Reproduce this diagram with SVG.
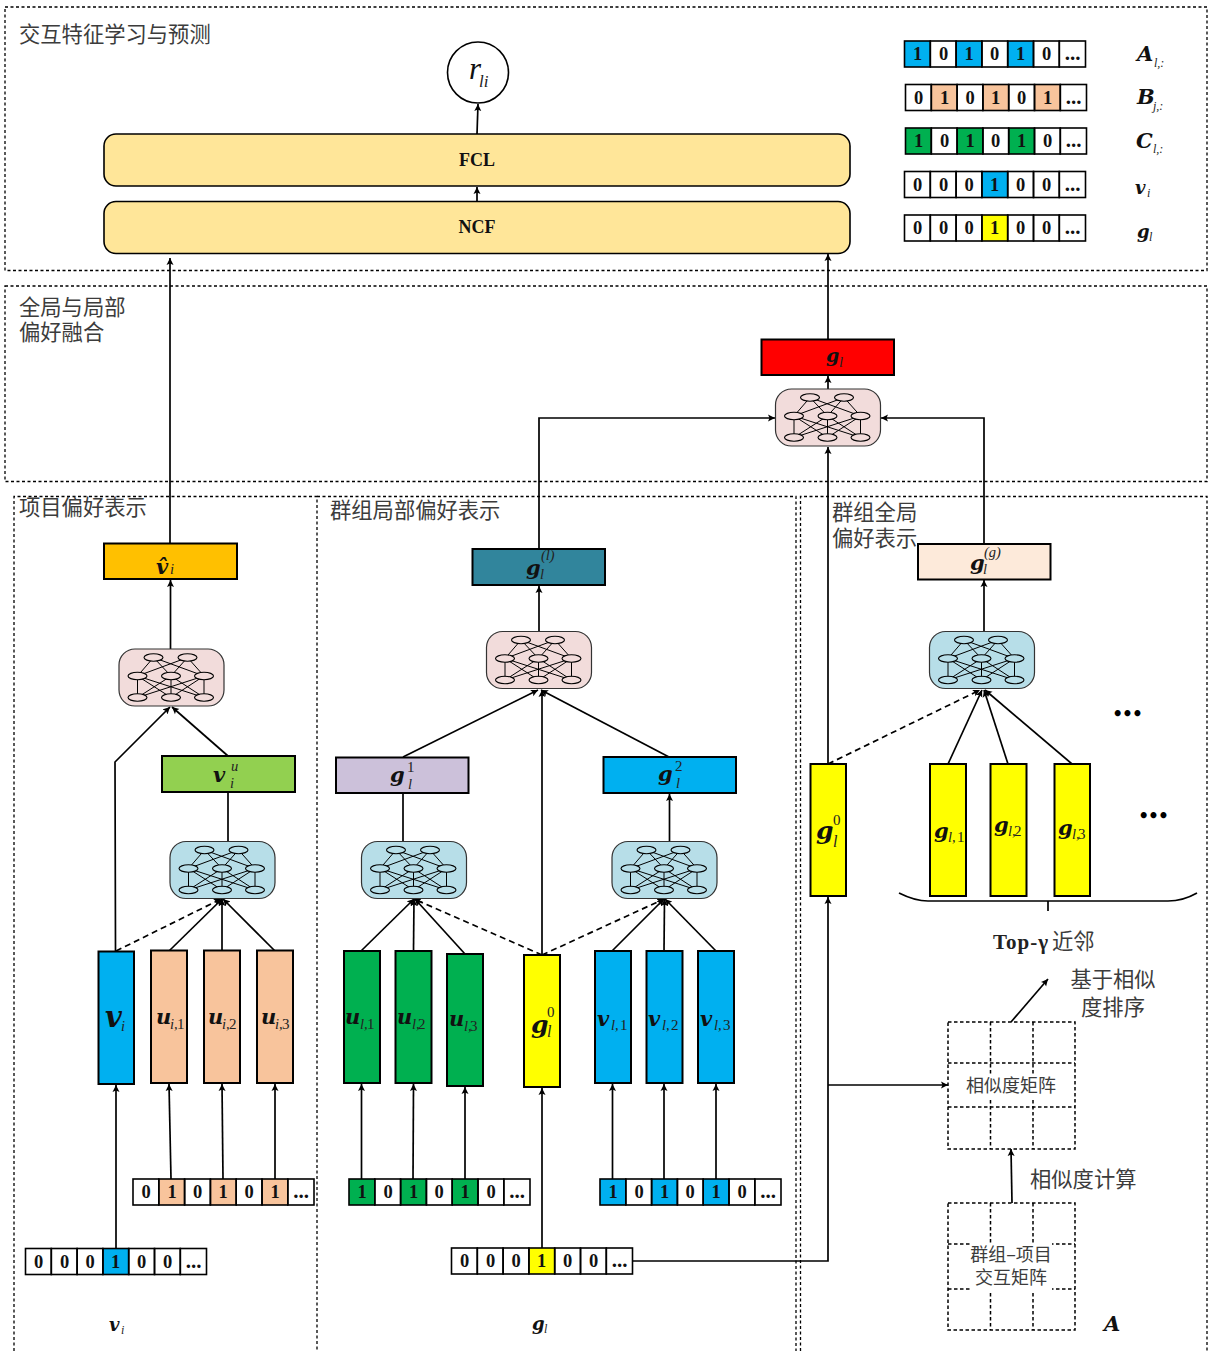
<svg xmlns="http://www.w3.org/2000/svg" width="1208" height="1351" viewBox="0 0 1208 1351">
<style>
.bg{fill:#fff}
.panel{fill:none;stroke:#000;stroke-width:1.3;stroke-dasharray:3 2.5}
.grid{fill:none;stroke:#000;stroke-width:1.5;stroke-dasharray:3.5 2.5}
.box{stroke:#000;stroke-width:2}
.yb{fill:#FFE699;stroke:#000;stroke-width:1.6}
.c{font-family:"Noto Sans CJK SC","Noto Sans",sans-serif;font-size:21.3px;fill:#3c3c3c}
.c18{font-size:18px}
.mid{text-anchor:middle}
.n{font-family:"Liberation Serif",serif;font-weight:bold;font-size:18.5px;text-anchor:middle;fill:#111}
.e{font-family:"Liberation Serif",serif;font-weight:bold;font-size:21px;text-anchor:middle;fill:#111}
.t{font-family:"Liberation Serif",serif;font-weight:bold;font-size:18px;text-anchor:middle;fill:#111}
.m{font-family:"DejaVu Serif",serif;font-weight:bold;font-style:italic;font-size:21px;fill:#111}
.s{font-family:"Liberation Serif",serif;font-style:italic;font-size:14.5px;fill:#222}
.r{font-family:"Liberation Serif",serif;font-size:15px;fill:#222}
.k{fill:none;stroke:#000;stroke-width:1.7}
.a{marker-end:url(#ah)}
.d{stroke-dasharray:6 4}
.nl{fill:none;stroke:#000;stroke-width:1}
.ne{stroke:#000;stroke-width:1.1}
.pink{fill:#F2DCDB;stroke:#333;stroke-width:1.2}
.blue{fill:#B7DEE8;stroke:#333;stroke-width:1.2}
.cell{fill:none;stroke:#000;stroke-width:1.6}
</style>
<defs>
<marker id="ah" markerUnits="userSpaceOnUse" markerWidth="9" markerHeight="8" refX="7" refY="4" orient="auto"><path d="M0,0.5 L7,4 L0,7.5 L1.5,4 Z" fill="#000"/></marker>
<g id="net">
<path class="nl" d="M34.5,8.5L18.5,27M34.5,8.5L52,27M34.5,8.5L85,27M68.5,8.5L18.5,27M68.5,8.5L52,27M68.5,8.5L85,27M18.5,27V48.5M18.5,27L52,48.5M18.5,27L85,48.5M52,27L18.5,48.5M52,27V48.5M52,27L85,48.5M85,27L18.5,48.5M85,27L52,48.5M85,27V48.5"/>
<g class="ne">
<ellipse cx="34.5" cy="8.5" rx="9.5" ry="3.7"/><ellipse cx="68.5" cy="8.5" rx="9.5" ry="3.7"/>
<ellipse cx="18.5" cy="27" rx="9.5" ry="3.7"/><ellipse cx="52" cy="27" rx="9.5" ry="3.7"/><ellipse cx="85" cy="27" rx="9.5" ry="3.7"/>
<ellipse cx="18.5" cy="48.5" rx="9.5" ry="3.7"/><ellipse cx="52" cy="48.5" rx="9.5" ry="3.7"/><ellipse cx="85" cy="48.5" rx="9.5" ry="3.7"/>
</g>
</g>
<g id="cells" class="cell">
<rect x="0" y="0" width="25.8" height="26"/><rect x="25.8" y="0" width="25.8" height="26"/><rect x="51.6" y="0" width="25.8" height="26"/><rect x="77.4" y="0" width="25.8" height="26"/><rect x="103.2" y="0" width="25.8" height="26"/><rect x="129" y="0" width="25.8" height="26"/><rect x="154.8" y="0" width="26.2" height="26"/>
</g>
</defs>
<rect class="bg" width="1208" height="1351"/>

<g id="panels">
<rect class="panel" x="5" y="7" width="1202" height="263.5"/>
<rect class="panel" x="5" y="286" width="1202" height="195.5"/>
<path class="panel" d="M14,1351V496.500H317V1351"/>
<path class="panel" d="M317,496.500H796V1351"/>
<path class="panel" d="M800.500,1351V496.500H1207V1351"/>
<text class="c" x="19" y="41.500">交互特征学习与预测</text>
<text class="c" x="19" y="315">全局与局部</text>
<text class="c" x="19" y="340">偏好融合</text>
<text class="c" x="19" y="514.500">项目偏好表示</text>
<text class="c" x="330" y="517.500">群组局部偏好表示</text>
<text class="c" x="832" y="520">群组全局</text>
<text class="c" x="832" y="545.500">偏好表示</text>
</g>

<g id="connectors">
<path class="k a" d="M170,543V258"/>
<path class="k a" d="M828,339V254"/>
<path class="k a" d="M828,389V376"/>
<path class="k a" d="M477,134L478,104"/>
<path class="k a" d="M477,201V187"/>
<path class="k a" d="M170.500,649V580"/>
<path class="k a" d="M115.500,951L115,762L170,707"/>
<path class="k a" d="M228,756L172,707"/>
<path class="k" d="M228,841V792"/>
<path class="k a d" d="M116,951L221,899"/>
<path class="k a" d="M169,951L222,899"/>
<path class="k a" d="M222,951V899"/>
<path class="k a" d="M275,951L223,899"/>
<path class="k a" d="M116,1248V1085"/>
<path class="k a" d="M171,1179L169,1084"/>
<path class="k a" d="M223,1179L222,1084"/>
<path class="k a" d="M275,1179V1084"/>
<path class="k a" d="M403,757L538,690"/>
<path class="k a" d="M669,757L541,690"/>
<path class="k a" d="M542,955V690"/>
<path class="k a" d="M539,631V586"/>
<path class="k a" d="M539,549V418H775"/>
<path class="k" d="M403,841V793"/>
<path class="k a" d="M669.500,841V794"/>
<path class="k a" d="M361,951L414,899"/>
<path class="k a" d="M413.500,951L414,899"/>
<path class="k a" d="M465,954L415,899"/>
<path class="k a d" d="M542,955L414,899"/>
<path class="k a d" d="M542,955L664,899"/>
<path class="k a" d="M612,951L664,899"/>
<path class="k a" d="M664,951L664.500,899"/>
<path class="k a" d="M716,951L665,899"/>
<path class="k a" d="M361.500,1179V1084"/>
<path class="k a" d="M413,1179L413.500,1084"/>
<path class="k a" d="M465,1179V1087"/>
<path class="k a" d="M612.500,1179V1084"/>
<path class="k a" d="M664,1179V1084"/>
<path class="k a" d="M716,1179V1084"/>
<path class="k a" d="M542,1248V1088"/>
<path class="k a" d="M633,1261H828V897"/>
<path class="k a" d="M828,1085H948"/>
<path class="k a" d="M828,764V447"/>
<path class="k a d" d="M828,764L980,690"/>
<path class="k a" d="M948,764L982,690"/>
<path class="k a" d="M1008,764L984,690"/>
<path class="k a" d="M1072,764L985,690"/>
<path class="k a" d="M984,631V580"/>
<path class="k a" d="M984,544V418H881"/>
<path class="k a" d="M1012,1203L1011,1149"/>
<path class="k a" d="M1011,1022L1048,979"/>
<path class="k" d="M899,893Q915,901 928,901H1168Q1183,901 1197,893"/>
<path class="k" d="M1048,901V911"/>
</g>

<g id="output-r"><circle cx="478" cy="72.500" r="30.500" fill="#fff" stroke="#000" stroke-width="1.6"/>
<text x="469" y="79" font-family="Liberation Serif" font-style="italic" font-size="31" fill="#111">r</text><text class="s" x="479" y="87" style="font-size:17px">li</text></g>
<g id="fcl"><rect class="yb" x="104" y="134" width="746" height="52" rx="12"/><text class="t" x="477" y="165.500">FCL</text></g>
<g id="ncf"><rect class="yb" x="104" y="201.500" width="746" height="52" rx="12"/><text class="t" x="477" y="233">NCF</text></g>

<g id="net-fusion"><rect class="pink" x="775.500" y="389" width="105" height="57" rx="16"/><use href="#net" x="775.500" y="389" fill="#F2DCDB"/></g>
<g id="net-item-top"><rect class="pink" x="119" y="649" width="105" height="57" rx="16"/><use href="#net" x="119" y="649" fill="#F2DCDB"/></g>
<g id="net-item"><rect class="blue" x="170" y="841.500" width="105" height="57" rx="16"/><use href="#net" x="170" y="841.500" fill="#B7DEE8"/></g>
<g id="net-local-top"><rect class="pink" x="486.500" y="631.500" width="105" height="57" rx="16"/><use href="#net" x="486.500" y="631.500" fill="#F2DCDB"/></g>
<g id="net-local-1"><rect class="blue" x="361.500" y="841.500" width="105" height="57" rx="16"/><use href="#net" x="361.500" y="841.500" fill="#B7DEE8"/></g>
<g id="net-local-2"><rect class="blue" x="612" y="841.500" width="105" height="57" rx="16"/><use href="#net" x="612" y="841.500" fill="#B7DEE8"/></g>
<g id="net-global"><rect class="blue" x="929.500" y="631.500" width="105" height="57" rx="16"/><use href="#net" x="929.500" y="631.500" fill="#B7DEE8"/></g>

<g id="g-l"><rect class="box" x="761.500" y="339.500" width="132.500" height="35.500" fill="#FF0000"/><text class="m" x="826" y="362" style="font-size:19px">g</text><text class="s" x="839" y="367">l</text></g>
<g id="v-hat"><rect class="box" x="104" y="543.500" width="133" height="35.500" fill="#FFC000"/><text class="m" x="156" y="574">v&#770;</text><text class="s" x="170" y="574">i</text></g>
<g id="g-local"><rect class="box" x="472.500" y="549" width="132.500" height="36" fill="#31859C"/><text class="m" x="526" y="575">g</text><text class="s" x="541" y="560">(l)</text><text class="s" x="540" y="579">l</text></g>
<g id="g-global"><rect class="box" x="918" y="544" width="132.500" height="35.500" fill="#FDEADA"/><text class="m" x="970" y="570">g</text><text class="s" x="984" y="557">(g)</text><text class="s" x="983" y="574">l</text></g>
<g id="v-u"><rect class="box" x="162" y="756" width="133" height="36" fill="#92D050"/><text class="m" x="213" y="782">v</text><text class="s" x="231" y="771">u</text><text class="s" x="230" y="788">i</text></g>
<g id="g-1"><rect class="box" x="336" y="757.500" width="132.500" height="35.500" fill="#CCC1DA"/><text class="m" x="390" y="782">g</text><text class="r" x="407" y="772">1</text><text class="s" x="408" y="789">l</text></g>
<g id="g-2"><rect class="box" x="603.500" y="757" width="132.500" height="36" fill="#00B0F0"/><text class="m" x="658" y="781">g</text><text class="r" x="675" y="771">2</text><text class="s" x="676" y="788">l</text></g>

<g id="bar-v"><rect class="box" x="98.500" y="951.500" width="35.500" height="132.500" fill="#00B0F0"/><text class="m" x="105" y="1027" style="font-size:29px">v</text><text class="s" x="121" y="1031">i</text></g>
<g id="bar-u1"><rect class="box" x="151" y="950.500" width="36" height="132.500" fill="#F8C49C"/><text class="m" x="156" y="1024">u</text><text class="s" x="170" y="1029">i,</text><text class="r" x="177" y="1029">1</text></g>
<g id="bar-u2"><rect class="box" x="204" y="950.500" width="36" height="132.500" fill="#F8C49C"/><text class="m" x="208" y="1024">u</text><text class="s" x="222" y="1029">i,</text><text class="r" x="229" y="1029">2</text></g>
<g id="bar-u3"><rect class="box" x="257" y="950.500" width="36" height="132.500" fill="#F8C49C"/><text class="m" x="261" y="1024">u</text><text class="s" x="275" y="1029">i,</text><text class="r" x="282" y="1029">3</text></g>
<g id="bar-g1"><rect class="box" x="344" y="951" width="36" height="132" fill="#00B050"/><text class="m" x="345" y="1024">u</text><text class="s" x="360" y="1029">l,</text><text class="r" x="367" y="1029">1</text></g>
<g id="bar-g2"><rect class="box" x="395.500" y="951" width="36" height="132" fill="#00B050"/><text class="m" x="397" y="1024">u</text><text class="s" x="412" y="1029">l,</text><text class="r" x="418" y="1029">2</text></g>
<g id="bar-g3"><rect class="box" x="447" y="954" width="36" height="132" fill="#00B050"/><text class="m" x="449" y="1026">u</text><text class="s" x="464" y="1031">l,</text><text class="r" x="470" y="1031">3</text></g>
<g id="bar-g0"><rect class="box" x="524" y="955" width="36" height="132" fill="#FFFF00"/><text class="m" x="531" y="1033" style="font-size:25px">g</text><text class="r" x="547" y="1017">0</text><text class="s" x="547" y="1037" style="font-size:16px">l</text></g>
<g id="bar-v1"><rect class="box" x="595" y="951" width="36" height="132" fill="#00B0F0"/><text class="m" x="597" y="1026">v</text><text class="s" x="611" y="1030">l</text><text class="s" x="615" y="1030">,</text><text class="r" x="620" y="1030">1</text></g>
<g id="bar-v2"><rect class="box" x="646.500" y="951" width="36" height="132" fill="#00B0F0"/><text class="m" x="648" y="1026">v</text><text class="s" x="662" y="1030">l</text><text class="s" x="666" y="1030">,</text><text class="r" x="671" y="1030">2</text></g>
<g id="bar-v3"><rect class="box" x="698" y="951" width="36" height="132" fill="#00B0F0"/><text class="m" x="700" y="1026">v</text><text class="s" x="714" y="1030">l</text><text class="s" x="718" y="1030">,</text><text class="r" x="723" y="1030">3</text></g>
<g id="bar-r0"><rect class="box" x="810.500" y="764" width="35.500" height="132" fill="#FFFF00"/><text class="m" x="816" y="839" style="font-size:25px">g</text><text class="r" x="833" y="825">0</text><text class="s" x="833" y="847" style="font-size:16px">l</text></g>
<g id="bar-r1"><rect class="box" x="930" y="764" width="36" height="132" fill="#FFFF00"/><text class="m" x="934" y="838">g</text><text class="s" x="948" y="842">l</text><text class="s" x="952" y="842">,</text><text class="r" x="957" y="842">1</text></g>
<g id="bar-r2"><rect class="box" x="990.500" y="764" width="36" height="132" fill="#FFFF00"/><text class="m" x="994" y="832">g</text><text class="s" x="1008" y="836">l,</text><text class="r" x="1014" y="836">2</text></g>
<g id="bar-r3"><rect class="box" x="1054.500" y="764" width="35.500" height="132" fill="#FFFF00"/><text class="m" x="1058" y="835">g</text><text class="s" x="1072" y="839">l,</text><text class="r" x="1078" y="839">3</text></g>

<g id="strip-A" transform="translate(904.500,41)"><rect fill="#00B0F0" x="0" width="25.800" height="26"/><rect fill="#00B0F0" x="51.600" width="25.800" height="26"/><rect fill="#00B0F0" x="103.200" width="25.800" height="26"/><use href="#cells"/>
<text class="n" x="13" y="19">1</text><text class="n" x="39" y="19">0</text><text class="n" x="64.500" y="19">1</text><text class="n" x="90" y="19">0</text><text class="n" x="116" y="19">1</text><text class="n" x="142" y="19">0</text><text class="e" x="168" y="19">...</text></g>
<g id="strip-B" transform="translate(905.500,84.500)"><rect fill="#F8C49C" x="25.800" width="25.800" height="26"/><rect fill="#F8C49C" x="77.400" width="25.800" height="26"/><rect fill="#F8C49C" x="129" width="25.800" height="26"/><use href="#cells"/>
<text class="n" x="13" y="19">0</text><text class="n" x="39" y="19">1</text><text class="n" x="64.500" y="19">0</text><text class="n" x="90" y="19">1</text><text class="n" x="116" y="19">0</text><text class="n" x="142" y="19">1</text><text class="e" x="168" y="19">...</text></g>
<g id="strip-C" transform="translate(905.500,128)"><rect fill="#00B050" x="0" width="25.800" height="26"/><rect fill="#00B050" x="51.600" width="25.800" height="26"/><rect fill="#00B050" x="103.200" width="25.800" height="26"/><use href="#cells"/>
<text class="n" x="13" y="19">1</text><text class="n" x="39" y="19">0</text><text class="n" x="64.500" y="19">1</text><text class="n" x="90" y="19">0</text><text class="n" x="116" y="19">1</text><text class="n" x="142" y="19">0</text><text class="e" x="168" y="19">...</text></g>
<g id="strip-v" transform="translate(904.500,171.500)"><rect fill="#00B0F0" x="77.400" width="25.800" height="26"/><use href="#cells"/>
<text class="n" x="13" y="19">0</text><text class="n" x="39" y="19">0</text><text class="n" x="64.500" y="19">0</text><text class="n" x="90" y="19">1</text><text class="n" x="116" y="19">0</text><text class="n" x="142" y="19">0</text><text class="e" x="168" y="19">...</text></g>
<g id="strip-g" transform="translate(904.500,215)"><rect fill="#FFFF00" x="77.400" width="25.800" height="26"/><use href="#cells"/>
<text class="n" x="13" y="19">0</text><text class="n" x="39" y="19">0</text><text class="n" x="64.500" y="19">0</text><text class="n" x="90" y="19">1</text><text class="n" x="116" y="19">0</text><text class="n" x="142" y="19">0</text><text class="e" x="168" y="19">...</text></g>
<g id="strip-u" transform="translate(133,1179)"><rect fill="#F8C49C" x="25.800" width="25.800" height="26"/><rect fill="#F8C49C" x="77.400" width="25.800" height="26"/><rect fill="#F8C49C" x="129" width="25.800" height="26"/><use href="#cells"/>
<text class="n" x="13" y="19">0</text><text class="n" x="39" y="19">1</text><text class="n" x="64.500" y="19">0</text><text class="n" x="90" y="19">1</text><text class="n" x="116" y="19">0</text><text class="n" x="142" y="19">1</text><text class="e" x="168" y="19">...</text></g>
<g id="strip-vi" transform="translate(25.500,1248.500)"><rect fill="#00B0F0" x="77.400" width="25.800" height="26"/><use href="#cells"/>
<text class="n" x="13" y="19">0</text><text class="n" x="39" y="19">0</text><text class="n" x="64.500" y="19">0</text><text class="n" x="90" y="19">1</text><text class="n" x="116" y="19">0</text><text class="n" x="142" y="19">0</text><text class="e" x="168" y="19">...</text></g>
<g id="strip-green" transform="translate(349,1179)"><rect fill="#00B050" x="0" width="25.800" height="26"/><rect fill="#00B050" x="51.600" width="25.800" height="26"/><rect fill="#00B050" x="103.200" width="25.800" height="26"/><use href="#cells"/>
<text class="n" x="13" y="19">1</text><text class="n" x="39" y="19">0</text><text class="n" x="64.500" y="19">1</text><text class="n" x="90" y="19">0</text><text class="n" x="116" y="19">1</text><text class="n" x="142" y="19">0</text><text class="e" x="168" y="19">...</text></g>
<g id="strip-blue" transform="translate(600,1179)"><rect fill="#00B0F0" x="0" width="25.800" height="26"/><rect fill="#00B0F0" x="51.600" width="25.800" height="26"/><rect fill="#00B0F0" x="103.200" width="25.800" height="26"/><use href="#cells"/>
<text class="n" x="13" y="19">1</text><text class="n" x="39" y="19">0</text><text class="n" x="64.500" y="19">1</text><text class="n" x="90" y="19">0</text><text class="n" x="116" y="19">1</text><text class="n" x="142" y="19">0</text><text class="e" x="168" y="19">...</text></g>
<g id="strip-gl" transform="translate(451.500,1248)"><rect fill="#FFFF00" x="77.400" width="25.800" height="26"/><use href="#cells"/>
<text class="n" x="13" y="19">0</text><text class="n" x="39" y="19">0</text><text class="n" x="64.500" y="19">0</text><text class="n" x="90" y="19">1</text><text class="n" x="116" y="19">0</text><text class="n" x="142" y="19">0</text><text class="e" x="168" y="19">...</text></g>

<g id="legend">
<text class="m" x="1137" y="61">A</text><text class="s" x="1154" y="67" style="font-size:12px">l,:</text>
<text class="m" x="1137" y="104">B</text><text class="s" x="1153" y="110" style="font-size:12px">j,:</text>
<text class="m" x="1136" y="148">C</text><text class="s" x="1153" y="153" style="font-size:12px">l,:</text>
<text class="m" x="1135" y="194" style="font-size:18px">v</text><text class="s" x="1147" y="197" style="font-size:12px">i</text>
<text class="m" x="1137" y="238" style="font-size:18px">g</text><text class="s" x="1149" y="241" style="font-size:12px">l</text>
<text class="m" x="109" y="1331" style="font-size:18px">v</text><text class="s" x="121" y="1334" style="font-size:12px">i</text>
<text class="m" x="532" y="1330" style="font-size:18px">g</text><text class="s" x="544" y="1333" style="font-size:12px">l</text>
<text class="m" x="1104" y="1331">A</text>
</g>

<g id="dots">
<text x="1127" y="720" text-anchor="middle" font-family="DejaVu Sans" font-weight="bold" font-size="17" letter-spacing="-1" fill="#000">•••</text>
<text x="1153" y="822" text-anchor="middle" font-family="DejaVu Sans" font-weight="bold" font-size="17" letter-spacing="-1" fill="#000">•••</text>
</g>
<g id="top-gamma"><text x="993" y="949" font-family="Liberation Serif" font-weight="bold" font-size="21" letter-spacing="1" fill="#222">Top-γ</text><text class="c" x="1052" y="949">近邻</text></g>
<g id="sort-label"><text class="c mid" x="1113" y="987">基于相似</text><text class="c mid" x="1113" y="1015">度排序</text></g>
<g id="calc-label"><text class="c" x="1030" y="1187">相似度计算</text></g>

<g id="sim-matrix">
<rect class="grid" x="948" y="1022" width="127" height="127"/>
<path class="grid" d="M948,1063H1075M948,1107H1075M990.500,1022V1149M1033,1022V1149"/>
<rect x="964" y="1074" width="94" height="24" fill="#fff"/>
<text class="c c18 mid" x="1011" y="1092">相似度矩阵</text>
</g>
<g id="group-item-matrix">
<rect class="grid" x="948" y="1203" width="127" height="127"/>
<path class="grid" d="M948,1244H1075M948,1289H1075M990.500,1203V1330M1033,1203V1330"/>
<rect x="971" y="1243" width="81" height="49" fill="#fff"/>
<text class="c c18 mid" x="1011" y="1261">群组–项目</text>
<text class="c c18 mid" x="1011" y="1284">交互矩阵</text>
</g>
</svg>
